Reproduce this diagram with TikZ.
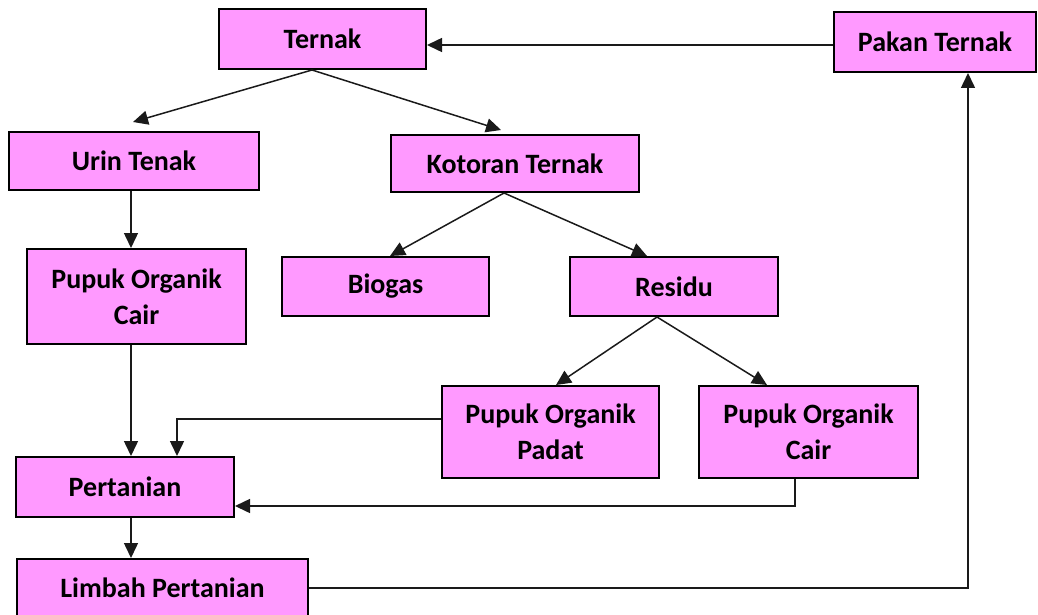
\documentclass[tikz,border=0pt]{standalone}
\usepackage{fontspec}
\setmainfont{Carlito}
\usetikzlibrary{arrows.meta,calc}
\definecolor{boxpink}{HTML}{FF99FF}
\definecolor{linegray}{HTML}{1A1A1A}
\begin{document}
\begin{tikzpicture}[x=1pt,y=-1pt,
  box/.style={draw=black, line width=2pt, fill=boxpink, inner sep=0pt,
    align=center, font=\bfseries\fontsize{28}{36}\selectfont},
  conn/.style={draw=linegray, line width=1.5pt},
  arr/.style={conn, -{Triangle[length=15pt,width=14pt]}}]
\useasboundingbox (0,0) rectangle (1038,615);
\node[box, minimum width=207pt, minimum height=60pt] (ternak) at (322.5,39) {Ternak};
\node[box, minimum width=202pt, minimum height=60pt] (pakan) at (935,42) {Pakan Ternak};
\node[box, minimum width=250pt, minimum height=58pt] (urin) at (134,161) {Urin Tenak};
\node[box, minimum width=248pt, minimum height=57pt] (kotoran) at (515,163.5) {Kotoran Ternak};
\node[box, minimum width=219pt, minimum height=95pt] (poca) at (136.5,296.5) {Pupuk Organik\\Cair};
\node[box, minimum width=207pt, minimum height=59pt] (biogas) at (385.5,286.5) {Biogas};
\node[box, minimum width=208pt, minimum height=59pt] (residu) at (674,286.5) {Residu};
\node[box, minimum width=217pt, minimum height=92pt] (padat) at (550.5,432) {Pupuk Organik\\Padat};
\node[box, minimum width=219pt, minimum height=92pt] (pocb) at (808.5,432) {Pupuk Organik\\Cair};
\node[box, minimum width=218pt, minimum height=60pt] (pertanian) at (125,487) {Pertanian};
\node[box, minimum width=291pt, minimum height=58pt] (limbah) at (162.5,588) {Limbah Pertanian};
% connectors
\draw[arr] ([yshift=-3pt]pakan.west) -- ([yshift=-3pt]pakan.west -| ternak.east);
\draw[arr] ([xshift=-10.5pt]ternak.south) -- ($(urin.north)+(-1,-9)$);
\draw[arr] ([xshift=-10.5pt]ternak.south) -- ($(kotoran.north)+(-14,-4)$);
\draw[arr] ([xshift=-3pt]urin.south) -- ([xshift=-3pt]urin.south |- poca.north);
\draw[arr] ([xshift=-11pt]kotoran.south) -- ([xshift=4.5pt]biogas.north);
\draw[arr] ([xshift=-11pt]kotoran.south) -- ([xshift=-27pt]residu.north);
\draw[arr] ([xshift=-17pt]residu.south) -- ([xshift=5.5pt]padat.north);
\draw[arr] ([xshift=-17pt]residu.south) -- ([xshift=-41.5pt]pocb.north);
\draw[arr] ([xshift=-5.5pt]poca.south) -- ([xshift=-5.5pt]poca.south |- pertanian.north);
\draw[arr] ([yshift=13pt]padat.west) -| ([xshift=52pt]pertanian.north);
\draw[arr] ([xshift=-13.5pt]pocb.south) |- ([yshift=-19pt]pertanian.east);
\draw[arr] ([xshift=6pt]pertanian.south) -- ([xshift=6pt]pertanian.south |- limbah.north);
\draw[arr] (limbah.east) -| ([xshift=33pt]pakan.south);
\end{tikzpicture}
\end{document}
